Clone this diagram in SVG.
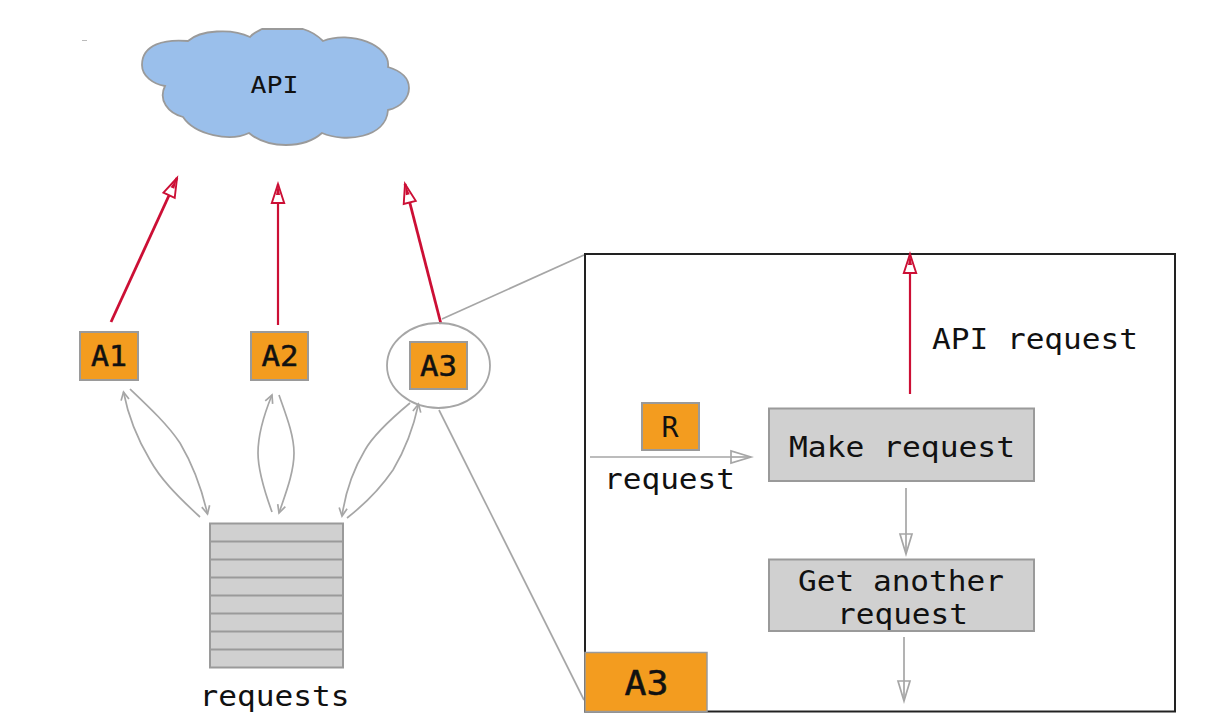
<svg xmlns="http://www.w3.org/2000/svg" width="1222" height="728" viewBox="0 0 1222 728">
<defs>
<style>
text{font-family:"DejaVu Sans Mono","Liberation Mono",monospace;fill:#111;text-anchor:middle;font-size:28px;}
.box{fill:#d0d0d0;stroke:#9a9a9a;stroke-width:2;}
.org{fill:#f39c1f;stroke:#9a9a9a;stroke-width:2;}
.red{fill:none;stroke:#cc0f35;stroke-width:2.2;}
.thick{stroke-width:2.800;}
.gray{fill:none;stroke:#a6a6a6;stroke-width:1.7;}
.tag{stroke:#111;stroke-width:.5;}
</style>
<marker id="rh" markerUnits="userSpaceOnUse" markerWidth="24" markerHeight="16" refX="20" refY="7" orient="auto" overflow="visible"><path d="M20 7 L1 .8 L1 13.200 Z" fill="#fff" stroke="#cc0f35" stroke-width="1.900"/><path d="M20 7 L9 5 L9 9 Z" fill="#cc0f35"/></marker>
<marker id="gh" markerUnits="userSpaceOnUse" markerWidth="24" markerHeight="16" refX="22" refY="7" orient="auto" overflow="visible"><path d="M22 7 L2 1 L2 13 Z" fill="#fff" stroke="#a6a6a6" stroke-width="1.700"/><line x1="2" y1="7" x2="22" y2="7" stroke="#a6a6a6" stroke-width="1.700"/></marker>
<marker id="go" markerUnits="userSpaceOnUse" markerWidth="14" markerHeight="14" refX="9" refY="6" orient="auto" overflow="visible"><path d="M1 2 L9 6 L1 10" fill="none" stroke="#a6a6a6" stroke-width="1.700"/></marker>
</defs>
<rect width="1222" height="728" fill="#fff"/>
<line x1="82" y1="40.500" x2="87" y2="40.500" stroke="#bbb" stroke-width="1"/>
<g id="cloud">
<path d="M188 41 C165 39 142 44 142 65 C142 76 153 84 165 86 C158 100 168 113 183 117 C195 135 230 142 249 133 C268 149 304 149 322 133 C345 143 386 138 388 110 C402 107 409 97 409 88 C409 78 401 71 388 67 C391 45 350 30 323 41 C316 34 310 31 303 29 L262 29 C258 31 253 33 250 37 C232 28 200 30 188 41 Z" fill="#9abfeb" stroke="#9a9a9a" stroke-width="1.800"/>
<text x="274.500" y="93" textLength="48" lengthAdjust="spacingAndGlyphs" style="font-size:23px">API</text>
</g>
<g id="connectors">
<line class="red thick" x1="111" y1="322" x2="177" y2="178" marker-end="url(#rh)"/>
<line class="red" x1="278" y1="325" x2="278" y2="184" marker-end="url(#rh)"/>
<line class="red thick" x1="441" y1="324" x2="405" y2="184" marker-end="url(#rh)"/>
<path class="gray" d="M200 517 C175 494 160 478 150 460 C138 440 128 415 123.500 392" marker-end="url(#go)"/>
<path class="gray" d="M130 389 C150 408 168 425 180 443 C193 465 202 490 207.500 514" marker-end="url(#go)"/>
<path class="gray" d="M272 512 C264 490 258 470 258 453 C258 433 265 412 272 395" marker-end="url(#go)"/>
<path class="gray" d="M279 395 C286 415 294 435 294 453 C294 473 285 495 279 513" marker-end="url(#go)"/>
<path class="gray" d="M347 518 C365 504 382 486 393 470 C405 450 414 425 418.500 404" marker-end="url(#go)"/>
<path class="gray" d="M410 403 C392 418 374 434 365 450 C353 470 345 495 342 516" marker-end="url(#go)"/>
<line class="gray" x1="442" y1="319" x2="584" y2="255"/>
<line class="gray" x1="439" y1="410" x2="584" y2="700"/>
</g>
<g id="agent1"><rect class="org" x="80" y="332" width="58" height="48"/><text class="tag" x="109" y="366" textLength="36" lengthAdjust="spacingAndGlyphs">A1</text></g>
<g id="agent2"><rect class="org" x="251" y="332" width="57" height="48"/><text class="tag" x="280" y="366" textLength="37" lengthAdjust="spacingAndGlyphs">A2</text></g>
<g id="agent3"><ellipse cx="438.500" cy="365.500" rx="51.500" ry="42.500" fill="none" stroke="#a6a6a6" stroke-width="1.800"/><rect class="org" x="410" y="342" width="57" height="47"/><text class="tag" x="438.500" y="376" textLength="37" lengthAdjust="spacingAndGlyphs">A3</text></g>
<g id="queue">
<rect class="box" x="210" y="523.500" width="133" height="144"/>
<path d="M210 541.500H343M210 559.500H343M210 577.500H343M210 595.500H343M210 613.500H343M210 631.500H343M210 649.500H343" fill="none" stroke="#9a9a9a" stroke-width="2"/>
<text x="274.500" y="706" textLength="150" lengthAdjust="spacingAndGlyphs">requests</text>
</g>
<g id="detail">
<rect x="585" y="254" width="590" height="457.500" fill="#fff" stroke="#222" stroke-width="2"/>
<line class="red" x1="910" y1="394" x2="910" y2="254" marker-end="url(#rh)"/>
<text x="1035" y="349" textLength="206" lengthAdjust="spacingAndGlyphs">API request</text>
</g>
<g id="request-token"><rect class="org" x="642" y="403" width="57" height="47"/><text x="670" y="437" textLength="17" lengthAdjust="spacingAndGlyphs">R</text></g>
<g id="incoming">
<line class="gray" x1="590" y1="457" x2="751" y2="457" marker-end="url(#gh)"/>
<text x="669.500" y="489" textLength="131" lengthAdjust="spacingAndGlyphs">request</text>
</g>
<g id="make-request"><rect class="box" x="769" y="408.500" width="265" height="72.500"/><text x="902" y="457" textLength="226" lengthAdjust="spacingAndGlyphs">Make request</text></g>
<g id="get-another"><rect class="box" x="769" y="559.500" width="265" height="71.500"/><text x="901" y="591" textLength="206" lengthAdjust="spacingAndGlyphs">Get another</text><text x="902.500" y="624" textLength="131" lengthAdjust="spacingAndGlyphs">request</text></g>
<g id="down-arrows">
<line class="gray" x1="906" y1="488" x2="906" y2="554" marker-end="url(#gh)"/>
<line class="gray" x1="904" y1="637" x2="904" y2="701" marker-end="url(#gh)"/>
</g>
<g id="a3-label"><rect x="585" y="652.500" width="122" height="59" fill="#f39c1f" stroke="#9a9a9a" stroke-width="1.500"/><text class="tag" x="646.500" y="695" textLength="44" lengthAdjust="spacingAndGlyphs" style="font-size:33px">A3</text></g>
</svg>
